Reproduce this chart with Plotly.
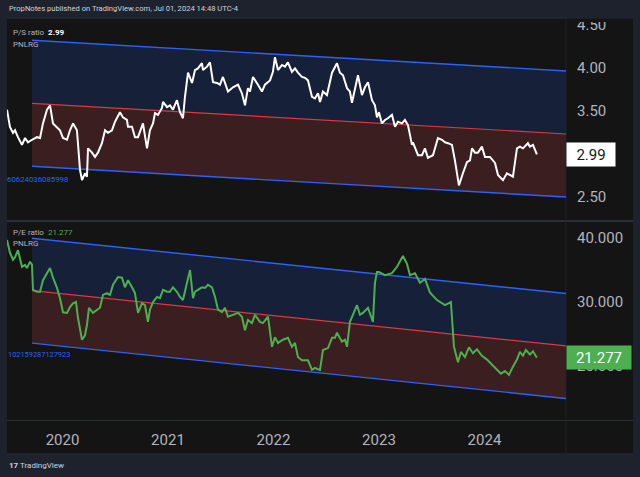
import plotly.graph_objects as go

# ---------------- data ----------------
year_ticks = [2020, 2021, 2022, 2023, 2024]
year_labels = ["2020", "2021", "2022", "2023", "2024"]

ps_years = [2019.474, 2019.502, 2019.531, 2019.550, 2019.578, 2019.616, 2019.645, 2019.673, 2019.711, 2019.758,
            2019.787, 2019.815, 2019.853, 2019.882, 2019.910, 2019.948, 2019.976, 2020.005, 2020.043, 2020.071,
            2020.100, 2020.137, 2020.166, 2020.185, 2020.213, 2020.232, 2020.242, 2020.280, 2020.308, 2020.336,
            2020.374, 2020.403, 2020.431, 2020.469, 2020.498, 2020.545, 2020.573, 2020.611, 2020.621, 2020.659,
            2020.687, 2020.716, 2020.754, 2020.763, 2020.801, 2020.829, 2020.858, 2020.877, 2020.905, 2020.943,
            2020.953, 2020.991, 2021.019, 2021.047, 2021.085, 2021.114, 2021.142, 2021.161, 2021.190, 2021.228,
            2021.256, 2021.284, 2021.322, 2021.332, 2021.370, 2021.398, 2021.427, 2021.465, 2021.493, 2021.521,
            2021.569, 2021.616, 2021.664, 2021.701, 2021.730, 2021.758, 2021.777, 2021.806, 2021.853, 2021.891,
            2021.919, 2021.967, 2021.995, 2022.014, 2022.043, 2022.081, 2022.109, 2022.137, 2022.175, 2022.204,
            2022.232, 2022.270, 2022.299, 2022.327, 2022.365, 2022.393, 2022.422, 2022.441, 2022.469, 2022.507,
            2022.555, 2022.602, 2022.630, 2022.659, 2022.697, 2022.725, 2022.744, 2022.773, 2022.801, 2022.839,
            2022.867, 2022.896, 2022.934, 2022.962, 2022.981, 2023.000, 2023.028, 2023.057, 2023.085, 2023.123,
            2023.152, 2023.180, 2023.218, 2023.246, 2023.275, 2023.313, 2023.322, 2023.370, 2023.408, 2023.436,
            2023.464, 2023.512, 2023.559, 2023.597, 2023.626, 2023.654, 2023.692, 2023.720, 2023.758, 2023.796,
            2023.834, 2023.863, 2023.882, 2023.910, 2023.938, 2023.976, 2024.005, 2024.052, 2024.100, 2024.128,
            2024.175, 2024.213, 2024.242, 2024.270, 2024.308, 2024.336, 2024.365, 2024.403, 2024.412, 2024.431,
            2024.460, 2024.497]
ps_values = [3.51, 3.31, 3.24, 3.27, 3.19, 3.10, 3.18, 3.13, 3.16, 3.19,
             3.18, 3.35, 3.51, 3.56, 3.35, 3.31, 3.27, 3.18, 3.16, 3.27,
             3.35, 3.27, 2.81, 2.69, 2.77, 2.73, 3.06, 3.01, 2.96, 3.01,
             3.12, 3.27, 3.24, 3.27, 3.37, 3.48, 3.42, 3.39, 3.31, 3.31,
             3.19, 3.19, 3.31, 3.35, 3.06, 3.27, 3.35, 3.47, 3.45, 3.53,
             3.60, 3.54, 3.56, 3.51, 3.62, 3.48, 3.41, 3.66, 3.94, 3.82,
             3.97, 3.99, 4.05, 3.97, 4.01, 4.06, 3.83, 3.82, 3.80, 3.89,
             3.72, 3.77, 3.80, 3.70, 3.56, 3.76, 3.72, 3.89, 3.80, 3.72,
             3.80, 3.85, 3.95, 4.12, 3.97, 4.03, 4.01, 4.06, 3.95, 3.99,
             3.94, 3.89, 3.88, 3.85, 3.66, 3.64, 3.70, 3.60, 3.72, 3.68,
             3.94, 4.05, 3.94, 3.91, 3.76, 3.72, 3.59, 3.77, 3.91, 3.68,
             3.77, 3.83, 3.62, 3.56, 3.42, 3.48, 3.35, 3.39, 3.41, 3.45,
             3.31, 3.37, 3.35, 3.39, 3.33, 3.10, 3.13, 2.98, 2.98, 3.06,
             2.95, 2.98, 3.18, 3.16, 3.13, 3.12, 3.10, 2.92, 2.63, 2.77,
             2.90, 2.92, 3.06, 3.01, 3.01, 3.08, 2.96, 2.96, 2.89, 2.75,
             2.69, 2.77, 2.75, 2.73, 3.06, 3.08, 3.06, 3.10, 3.12, 3.08,
             3.10, 2.99]

pe_years = [2019.474, 2019.502, 2019.531, 2019.550, 2019.578, 2019.616, 2019.645, 2019.663, 2019.692, 2019.711,
            2019.720, 2019.758, 2019.787, 2019.815, 2019.882, 2019.910, 2019.948, 2019.976, 2020.005, 2020.043,
            2020.071, 2020.100, 2020.128, 2020.147, 2020.185, 2020.213, 2020.232, 2020.251, 2020.289, 2020.327,
            2020.355, 2020.384, 2020.422, 2020.450, 2020.479, 2020.526, 2020.564, 2020.592, 2020.621, 2020.659,
            2020.687, 2020.716, 2020.754, 2020.782, 2020.810, 2020.829, 2020.858, 2020.896, 2020.924, 2020.953,
            2020.991, 2021.019, 2021.047, 2021.085, 2021.114, 2021.142, 2021.180, 2021.209, 2021.237, 2021.256,
            2021.284, 2021.322, 2021.351, 2021.379, 2021.417, 2021.446, 2021.474, 2021.512, 2021.540, 2021.569,
            2021.616, 2021.664, 2021.701, 2021.730, 2021.758, 2021.796, 2021.825, 2021.872, 2021.900, 2021.948,
            2021.986, 2022.014, 2022.043, 2022.090, 2022.137, 2022.175, 2022.204, 2022.232, 2022.270, 2022.299,
            2022.327, 2022.365, 2022.393, 2022.422, 2022.441, 2022.469, 2022.517, 2022.555, 2022.583, 2022.602,
            2022.649, 2022.678, 2022.697, 2022.725, 2022.754, 2022.792, 2022.820, 2022.848, 2022.896, 2022.943,
            2022.962, 2022.981, 2023.000, 2023.057, 2023.123, 2023.171, 2023.227, 2023.265, 2023.294, 2023.341,
            2023.389, 2023.436, 2023.483, 2023.550, 2023.626, 2023.682, 2023.711, 2023.749, 2023.777, 2023.815,
            2023.853, 2023.891, 2023.929, 2023.976, 2024.024, 2024.071, 2024.109, 2024.156, 2024.194, 2024.232,
            2024.270, 2024.308, 2024.336, 2024.365, 2024.393, 2024.431, 2024.460, 2024.497]
pe_values = [39.7, 37.7, 36.6, 37.0, 38.1, 35.5, 35.8, 35.3, 36.3, 35.8,
             31.9, 31.6, 31.6, 33.4, 35.3, 33.8, 32.2, 30.6, 28.4, 28.3,
             29.2, 29.8, 30.0, 27.5, 24.1, 24.8, 26.4, 29.1, 28.3, 28.8,
             29.1, 31.1, 31.4, 31.1, 32.7, 33.9, 33.8, 32.3, 33.4, 32.3,
             31.4, 28.3, 29.8, 29.5, 26.9, 28.8, 30.0, 30.8, 30.6, 31.9,
             31.6, 31.6, 32.3, 31.6, 30.8, 30.3, 33.1, 35.0, 30.6, 31.6,
             31.9, 32.3, 32.2, 32.7, 32.3, 30.8, 28.8, 28.4, 29.1, 27.7,
             28.0, 28.3, 27.7, 25.6, 27.2, 26.7, 28.0, 26.9, 26.7, 27.7,
             23.0, 24.5, 23.6, 24.1, 24.4, 23.0, 23.6, 21.4, 20.9, 20.9,
             20.9, 19.4, 19.7, 19.5, 19.4, 22.5, 22.8, 24.4, 24.4, 25.2,
             23.8, 24.1, 23.0, 26.9, 28.0, 29.5, 28.0, 28.3, 29.1, 26.9,
             33.0, 34.7, 34.7, 34.2, 34.5, 35.5, 37.2, 36.0, 34.2, 34.5,
             33.0, 33.6, 31.5, 30.3, 29.5, 30.0, 23.0, 20.6, 22.2, 21.4,
             22.9, 22.0, 22.6, 21.6, 21.0, 20.2, 19.7, 18.8, 19.2, 18.6,
             19.9, 21.0, 22.2, 21.6, 22.5, 21.8, 22.3, 21.277]

# regression channels: start / end years, midline values, deviation
channel_years = [2019.711, 2024.773]
ps_channel_mid = [3.584, 3.227]
ps_channel_dev = 0.733
pe_channel_mid = [31.77, 23.13]
pe_channel_dev = 8.2

ps_last = "2.99"
pe_last = "21.277"
ps_label_tail = "60624036085998"
pe_label_tail = "102159287127923"

# ---------------- styling ----------------
W, H = 640, 477
def px(x):
    return x / W
def py(y):
    return 1 - y / H

OUTER = "#1e222d"
PANEL = "#141414"
SEP = "#2a2e39"
AXIS_TXT = "#b2b5be"
BLUE = "#2962ff"
RED = "#e0383f"
UP_FILL = "#172039"
DN_FILL = "#3b1e1f"
GREEN = "#4caf50"
FONT = "Roboto"

fig = go.Figure()

def add_channel(mid, dev, yaxis):
    upper = [m + dev for m in mid]
    lower = [m - dev for m in mid]
    xs = channel_years + channel_years[::-1]
    fig.add_trace(go.Scatter(x=xs, y=upper + mid[::-1], fill="toself", fillcolor=UP_FILL,
                             mode="lines", line=dict(width=0), hoverinfo="skip", yaxis=yaxis))
    fig.add_trace(go.Scatter(x=xs, y=mid + lower[::-1], fill="toself", fillcolor=DN_FILL,
                             mode="lines", line=dict(width=0), hoverinfo="skip", yaxis=yaxis))
    fig.add_trace(go.Scatter(x=channel_years, y=upper, mode="lines", line=dict(color=BLUE, width=1.4),
                             hoverinfo="skip", yaxis=yaxis))
    fig.add_trace(go.Scatter(x=channel_years, y=lower, mode="lines", line=dict(color=BLUE, width=1.4),
                             hoverinfo="skip", yaxis=yaxis))
    fig.add_trace(go.Scatter(x=channel_years, y=mid, mode="lines", line=dict(color=RED, width=1.2),
                             hoverinfo="skip", yaxis=yaxis))

add_channel(ps_channel_mid, ps_channel_dev, "y")
add_channel(pe_channel_mid, pe_channel_dev, "y2")

fig.add_trace(go.Scatter(x=ps_years, y=ps_values, mode="lines", line=dict(color="#ffffff", width=2),
                         yaxis="y", name="P/S ratio"))
fig.add_trace(go.Scatter(x=pe_years, y=pe_values, mode="lines", line=dict(color=GREEN, width=2),
                         yaxis="y2", name="P/E ratio"))

shapes = [
    dict(type="rect", xref="paper", yref="paper", x0=px(7), x1=px(633), y0=py(453), y1=py(18),
         fillcolor=PANEL, line=dict(width=0), layer="below"),
    dict(type="line", xref="paper", yref="paper", x0=px(7), x1=px(633), y0=py(18), y1=py(18),
         line=dict(color=SEP, width=1), layer="below"),
    dict(type="line", xref="paper", yref="paper", x0=px(7), x1=px(633), y0=py(221), y1=py(221),
         line=dict(color=SEP, width=2), layer="below"),
    dict(type="line", xref="paper", yref="paper", x0=px(7), x1=px(633), y0=py(420.5), y1=py(420.5),
         line=dict(color=SEP, width=1), layer="below"),
    dict(type="line", xref="paper", yref="paper", x0=px(566), x1=px(566), y0=py(453), y1=py(18),
         line=dict(color="#1f2126", width=1), layer="below"),
    # the top price label is clipped by the pane's upper edge
    dict(type="rect", xref="paper", yref="paper", x0=px(567), x1=px(633), y0=py(22), y1=py(18.5),
         fillcolor=PANEL, line=dict(width=0), layer="above"),
    dict(type="rect", xref="paper", yref="paper", x0=px(567), x1=px(633), y0=py(18.5), y1=py(14),
         fillcolor=OUTER, line=dict(width=0), layer="above"),
]

small = dict(family=FONT, size=8, color=AXIS_TXT)
annotations = [
    dict(xref="paper", yref="paper", x=px(7), y=py(9), xanchor="left", yanchor="middle", showarrow=False,
         text="PropNotes published on TradingView.com, Jul 01, 2024 14:48 UTC-4",
         font=dict(family=FONT, size=7.6, color="#d1d4dc")),
    dict(xref="paper", yref="paper", x=px(11), y=py(33), xanchor="left", yanchor="middle", showarrow=False,
         text="P/S ratio  <b><span style='color:#ffffff'>" + ps_last + "</span></b>", font=small),
    dict(xref="paper", yref="paper", x=px(11), y=py(44), xanchor="left", yanchor="middle", showarrow=False,
         text="PNLRG", font=small),
    dict(xref="paper", yref="paper", x=px(11), y=py(232), xanchor="left", yanchor="middle", showarrow=False,
         text="P/E ratio  <span style='color:" + GREEN + "'>" + pe_last + "</span>", font=small),
    dict(xref="paper", yref="paper", x=px(11), y=py(243), xanchor="left", yanchor="middle", showarrow=False,
         text="PNLRG", font=small),
    dict(xref="paper", yref="paper", x=px(5), y=py(179), xanchor="left", yanchor="middle", showarrow=False,
         text=ps_label_tail, font=dict(family=FONT, size=7.8, color=BLUE)),
    dict(xref="paper", yref="paper", x=px(6), y=py(354), xanchor="left", yanchor="middle", showarrow=False,
         text=pe_label_tail, font=dict(family=FONT, size=7.4, color=BLUE)),
    dict(xref="paper", yref="y", x=px(566), y=ps_values[-1], xanchor="left", yanchor="middle",
         showarrow=False, text=ps_last, bgcolor="#ffffff", width=44, height=19, borderpad=2,
         font=dict(family=FONT, size=15, color="#131722")),
    dict(xref="paper", yref="y2", x=px(566), y=pe_values[-1], xanchor="left", yanchor="middle",
         showarrow=False, text=pe_last, bgcolor=GREEN, width=60, height=19, borderpad=2,
         font=dict(family=FONT, size=15, color="#ffffff")),
    dict(xref="paper", yref="paper", x=px(7), y=py(465), xanchor="left", yanchor="middle", showarrow=False,
         text="<b>17</b> TradingView", font=dict(family=FONT, size=8, color="#d1d4dc")),
]

tickfont = dict(family=FONT, size=15, color=AXIS_TXT)
fig.update_layout(
    width=W, height=H,
    margin=dict(l=0, r=0, t=0, b=0, autoexpand=False),
    paper_bgcolor=OUTER,
    plot_bgcolor="rgba(0,0,0,0)",
    showlegend=False,
    xaxis=dict(domain=[px(7), px(566)], range=[2019.474, 2024.773], anchor="y2",
               tickvals=year_ticks, ticktext=year_labels, ticks="", showgrid=False, zeroline=False,
               showline=False, tickfont=tickfont, ticklabelstandoff=9, fixedrange=True, automargin=False),
    yaxis=dict(domain=[py(221), py(18)], range=[2.215, 4.576], side="right", anchor="x",
               tickvals=[2.5, 3.0, 3.5, 4.0, 4.5], tickformat=".2f", ticks="", showgrid=False,
               zeroline=False, showline=False, tickfont=tickfont, ticklabelstandoff=10, fixedrange=True,
               automargin=False),
    yaxis2=dict(domain=[py(420), py(221)], range=[11.56, 42.66], side="right", anchor="x",
                tickvals=[20, 30, 40], tickformat=".3f", ticks="", showgrid=False,
                zeroline=False, showline=False, tickfont=tickfont, ticklabelstandoff=10, fixedrange=True,
                automargin=False),
    shapes=shapes,
    annotations=annotations,
)

fig.write_html("out.html", config=dict(displayModeBar=False),
               post_script="document.body.style.margin='0';document.body.style.overflow='hidden';")
